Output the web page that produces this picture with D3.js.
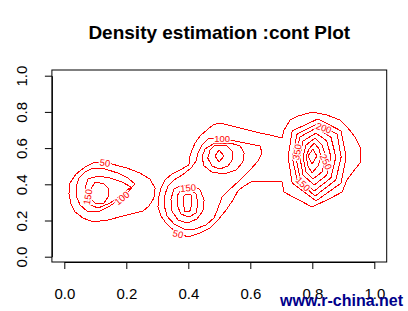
<!DOCTYPE html>
<html><head><meta charset="utf-8">
<script src="https://cdn.jsdelivr.net/npm/d3@7"></script>
<style>body{margin:0;background:#fff}svg{display:block}</style>
</head><body>
<script>
// ---- data (data units) ----
const xTicks = [0.0, 0.2, 0.4, 0.6, 0.8, 1.0];
const yTicks = [0.0, 0.2, 0.4, 0.6, 0.8, 1.0];
const titleText = "Density estimation :cont Plot";
const watermark = "www.r-china.net";

// left cluster
const leftC50 = [[0.131,0.523],[0.164,0.507],[0.202,0.490],[0.244,0.462],[0.276,0.429],[0.293,0.380],[0.289,0.324],[0.273,0.280],[0.254,0.252],[0.202,0.230],[0.141,0.203],[0.093,0.192],[0.060,0.214],[0.035,0.247],[0.022,0.291],[0.015,0.346],[0.018,0.407],[0.038,0.457],[0.067,0.495],[0.099,0.523]];
const leftC100 = [[0.093,0.490],[0.131,0.485],[0.173,0.462],[0.205,0.435],[0.228,0.402],[0.205,0.357],[0.180,0.319],[0.147,0.280],[0.109,0.247],[0.073,0.252],[0.051,0.286],[0.038,0.335],[0.038,0.385],[0.047,0.435],[0.067,0.468]];
const leftC150 = [[0.076,0.429],[0.109,0.446],[0.147,0.435],[0.186,0.413],[0.215,0.385],[0.186,0.346],[0.147,0.296],[0.109,0.269],[0.083,0.286],[0.067,0.330],[0.067,0.380]];
const leftC200 = [[0.099,0.413],[0.128,0.402],[0.144,0.374],[0.141,0.330],[0.128,0.296],[0.102,0.291],[0.086,0.319],[0.086,0.374]];

// big 50 contour joining middle and right clusters
const jointC50 = [[0.367,0.131],[0.399,0.109],[0.438,0.131],[0.470,0.159],[0.496,0.203],[0.522,0.258],[0.544,0.313],[0.560,0.363],[0.580,0.391],[0.602,0.413],[0.657,0.413],[0.702,0.413],[0.709,0.357],[0.738,0.330],[0.799,0.275],[0.847,0.313],[0.896,0.357],[0.912,0.424],[0.931,0.468],[0.954,0.518],[0.954,0.606],[0.938,0.661],[0.915,0.711],[0.889,0.755],[0.847,0.783],[0.799,0.799],[0.754,0.777],[0.728,0.755],[0.709,0.700],[0.702,0.656],[0.664,0.672],[0.631,0.683],[0.567,0.711],[0.502,0.739],[0.480,0.728],[0.460,0.700],[0.438,0.667],[0.422,0.628],[0.412,0.590],[0.405,0.551],[0.402,0.507],[0.373,0.479],[0.347,0.457],[0.325,0.424],[0.312,0.380],[0.305,0.330],[0.302,0.275],[0.312,0.225],[0.328,0.186],[0.344,0.159]];
// middle clusters
const midC100 = [[0.509,0.650],[0.535,0.645],[0.583,0.628],[0.631,0.612],[0.638,0.573],[0.625,0.529],[0.599,0.479],[0.567,0.424],[0.535,0.374],[0.509,0.330],[0.496,0.269],[0.483,0.214],[0.457,0.175],[0.422,0.153],[0.386,0.153],[0.354,0.181],[0.331,0.225],[0.322,0.286],[0.325,0.346],[0.335,0.391],[0.354,0.424],[0.380,0.451],[0.409,0.490],[0.425,0.529],[0.431,0.573],[0.444,0.617],[0.463,0.650],[0.486,0.656]];
const upperC150 = [[0.480,0.623],[0.535,0.628],[0.567,0.612],[0.580,0.573],[0.576,0.523],[0.554,0.479],[0.515,0.457],[0.476,0.468],[0.451,0.501],[0.444,0.551],[0.454,0.595]];
const upperC200 = [[0.483,0.612],[0.525,0.612],[0.541,0.584],[0.544,0.540],[0.528,0.501],[0.502,0.485],[0.476,0.501],[0.463,0.545],[0.470,0.590]];
const upperC250 = [[0.499,0.590],[0.515,0.556],[0.499,0.523],[0.486,0.556]];
const lowerC150 = [[0.354,0.374],[0.380,0.396],[0.415,0.396],[0.438,0.369],[0.451,0.313],[0.447,0.252],[0.428,0.208],[0.396,0.186],[0.367,0.203],[0.347,0.252],[0.344,0.319]];
const lowerC200 = [[0.373,0.363],[0.405,0.374],[0.425,0.346],[0.431,0.297],[0.425,0.241],[0.402,0.219],[0.376,0.236],[0.364,0.286],[0.364,0.335]];
const lowerC250 = [[0.393,0.346],[0.409,0.341],[0.412,0.291],[0.405,0.252],[0.389,0.252],[0.383,0.297],[0.386,0.335]];
// right cluster
const rightC100 = [[0.818,0.761],[0.893,0.695],[0.909,0.551],[0.893,0.407],[0.812,0.308],[0.735,0.407],[0.722,0.551],[0.735,0.695]];
const rightC150 = [[0.815,0.733],[0.880,0.678],[0.893,0.551],[0.876,0.424],[0.809,0.335],[0.751,0.424],[0.735,0.551],[0.751,0.678]];
const rightC200 = [[0.812,0.711],[0.860,0.661],[0.876,0.551],[0.860,0.435],[0.806,0.363],[0.760,0.435],[0.747,0.551],[0.760,0.661]];
const rightC250 = [[0.812,0.683],[0.847,0.639],[0.860,0.551],[0.847,0.451],[0.806,0.396],[0.770,0.451],[0.760,0.551],[0.770,0.639]];
const rightC300 = [[0.809,0.656],[0.831,0.617],[0.844,0.551],[0.831,0.468],[0.802,0.429],[0.780,0.468],[0.770,0.551],[0.780,0.617]];
const rightC350 = [[0.806,0.628],[0.822,0.595],[0.828,0.551],[0.818,0.501],[0.799,0.462],[0.786,0.501],[0.780,0.551],[0.789,0.595]];
const rightC400 = [[0.802,0.595],[0.815,0.556],[0.799,0.512],[0.786,0.556]];

const contourRings = [leftC50,leftC100,leftC150,leftC200,jointC50,midC100,upperC150,upperC200,upperC250,lowerC150,lowerC200,lowerC250,rightC100,rightC150,rightC200,rightC250,rightC300,rightC350,rightC400];

// contour labels
const labelText  = ["50","100","150","100","150","50","200","350","250","150"];
const labelX     = [0.131,0.186,0.076,0.509,0.399,0.367,0.837,0.751,0.844,0.770];
const labelY     = [0.518,0.324,0.330,0.650,0.380,0.125,0.711,0.578,0.524,0.401];
const labelAngle = [8,-40,-80,0,-5,15,20,-80,65,45];

// ---- drawing ----
const W = 408, H = 311;
const svg = d3.select("body").append("svg").attr("width", W).attr("height", H)
  .style("font-family", "'Liberation Sans', Arial, sans-serif");

const x = d3.scaleLinear().domain([0, 1]).range([64.3, 374.3]);
const y = d3.scaleLinear().domain([0, 1]).range([256.7, 75.7]);
const boxL = x(-0.04), boxR = x(1.04), boxT = 70, boxB = 262;

svg.append("text").attr("x", (boxL + boxR) / 2).attr("y", 39)
  .attr("text-anchor", "middle").attr("font-weight", "bold").attr("font-size", 19)
  .attr("fill", "#000").text(titleText);

const line = d3.line().x(d => x(d[0])).y(d => y(d[1])).curve(d3.curveLinearClosed);
svg.append("g").selectAll("path").data(contourRings).join("path")
  .attr("d", line).attr("fill", "none").attr("stroke", "#ff0000").attr("stroke-width", 1)
  .attr("shape-rendering", "crispEdges");

svg.append("g").selectAll("text").data(labelText).join("text")
  .attr("transform", (d, i) => `translate(${x(labelX[i])},${y(labelY[i])}) rotate(${labelAngle[i]})`)
  .attr("text-anchor", "middle").attr("dy", "0.35em")
  .attr("font-size", 9.5).attr("fill", "#ff0000")
  .attr("stroke", "#fff").attr("stroke-width", 2.5).attr("paint-order", "stroke")
  .text(d => d);

svg.append("rect").attr("x", boxL).attr("y", boxT).attr("width", boxR - boxL).attr("height", boxB - boxT)
  .attr("fill", "none").attr("stroke", "#000").attr("stroke-width", 1);

const fmt = d3.format(".1f");
const gx = svg.append("g").attr("transform", `translate(0,${boxB})`)
  .call(d3.axisBottom(x).tickValues(xTicks).tickFormat(fmt).tickSize(7).tickSizeOuter(0).tickPadding(19));
gx.select(".domain").attr("stroke", "#000");
gx.selectAll("text").attr("font-size", 15).attr("font-family", "'Liberation Sans', Arial, sans-serif").attr("fill", "#000");

const gy = svg.append("g").attr("transform", `translate(${boxL},0)`)
  .call(d3.axisLeft(y).tickValues(yTicks).tickFormat(fmt).tickSize(7).tickSizeOuter(0));
gy.selectAll("text").attr("font-size", 15).attr("font-family", "'Liberation Sans', Arial, sans-serif").attr("fill", "#000")
  .attr("transform", "rotate(-90)").attr("x", 0).attr("y", -25).attr("dy", 0).attr("text-anchor", "middle");

svg.append("text").attr("x", 403).attr("y", 306).attr("text-anchor", "end")
  .attr("font-weight", "bold").attr("font-size", 16).attr("fill", "#00008b")
  .text(watermark);
</script>
</body></html>
